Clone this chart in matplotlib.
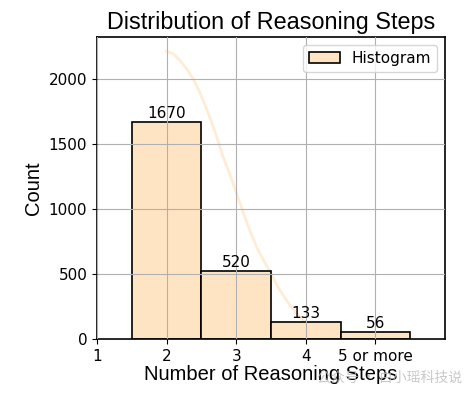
import matplotlib
matplotlib.use("Agg")
import matplotlib.pyplot as plt

# Data
categories = [2, 3, 4, 5]
counts = [1670, 520, 133, 56]
tick_positions = [1, 2, 3, 4, 5]
tick_labels = ["1", "2", "3", "4", "5 or more"]

curve_x = [2.0, 2.1, 2.2, 2.3, 2.4, 2.5, 2.6, 2.7, 2.8, 2.9, 3.0, 3.1, 3.2, 3.3,
           3.4, 3.5, 3.6, 3.7, 3.8, 3.9, 4.0, 4.2, 4.4, 4.6, 4.8, 5.0]
curve_y = [2215, 2195, 2140, 2070, 1985, 1870, 1735, 1590, 1420, 1280, 1130, 975,
           830, 700, 600, 505, 400, 315, 242, 178, 125, 70, 38, 20, 10, 5]

fig = plt.figure(figsize=(4.74, 3.96), dpi=100)
ax = fig.add_axes([97/474, 57/396, 348/474, 302/396])

ax.plot(curve_x, curve_y, color="bisque", alpha=0.7, linewidth=2.0, zorder=0.5)
bars = ax.bar(categories, counts, width=1.0, color="bisque", edgecolor="black",
              linewidth=1.2, label="Histogram", zorder=1)
for x, c in zip(categories, counts):
    ax.text(x, c + 8, str(c), ha="center", va="bottom", fontsize=11)

ax.set_xlim(1, 6)
ax.set_ylim(0, 2325)
ax.set_xticks(tick_positions)
ax.set_xticklabels(tick_labels)
ax.set_yticks([0, 500, 1000, 1500, 2000])
ax.tick_params(labelsize=11)
ax.grid(True)
ax.set_axisbelow(False)
for s in ax.spines.values():
    s.set_linewidth(1.2)

ax.set_title("Distribution of Reasoning Steps", fontsize=16.8,
             family=["Liberation Sans", "DejaVu Sans"], pad=6)
ax.set_xlabel("Number of Reasoning Steps", fontsize=14.5,
              family=["Liberation Sans", "DejaVu Sans"], labelpad=1)
ax.set_ylabel("Count", fontsize=14.5, family=["Liberation Sans", "DejaVu Sans"])
ax.legend(loc="upper right", fontsize=11)

fig.text(0.975, 0.045, "公众号 · 白小瑶科技说", ha="right", va="center", fontsize=10,
         color="#bbbbbb", alpha=0.8, family=["Noto Sans CJK SC", "DejaVu Sans"])

fig.savefig("out.png", dpi=100)
